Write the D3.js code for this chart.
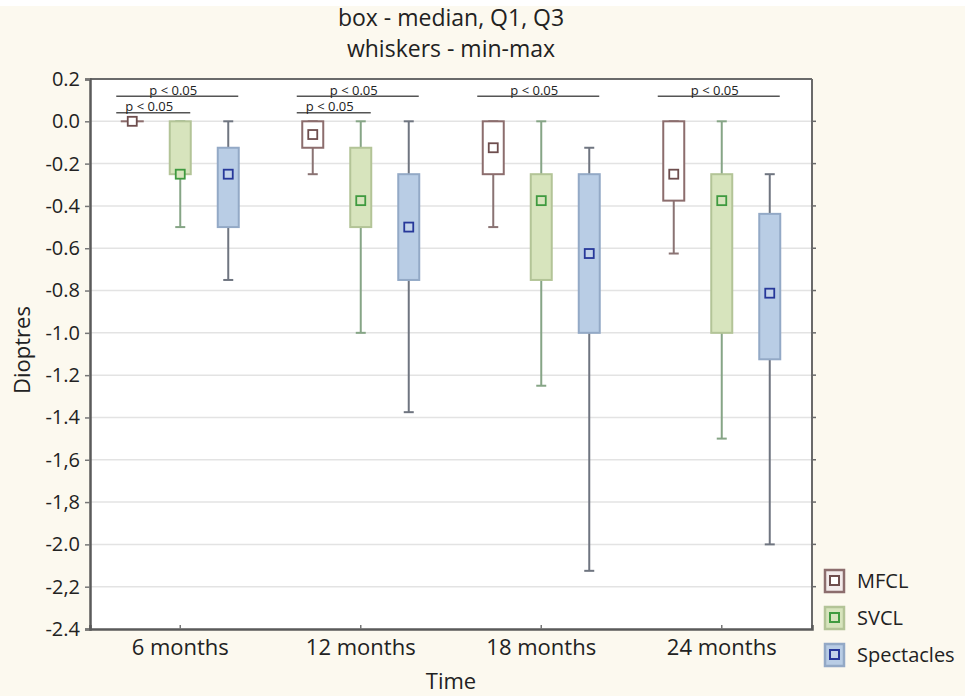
<!DOCTYPE html>
<html>
<head>
<meta charset="utf-8">
<script src="https://cdn.jsdelivr.net/npm/d3@7"></script>
<style>
  html, body { margin: 0; padding: 0; background: #ffffff; }
  svg { display: block; }
  text { font-family: "Open Sans", "DejaVu Sans", sans-serif; fill: #222; }
</style>
</head>
<body>
<svg id="chart" width="965" height="696"></svg>
<script>
// ---------- data ----------
const categories = ["6 months", "12 months", "18 months", "24 months"];
const series = ["MFCL", "SVCL", "Spectacles"];

const mfclMin    = [0, -0.25, -0.5, -0.625];
const mfclQ1     = [0, -0.125, -0.25, -0.375];
const mfclMedian = [0, -0.0625, -0.125, -0.25];
const mfclQ3     = [0, 0, 0, 0];
const mfclMax    = [0, 0, 0, 0];

const svclMin    = [-0.5, -1.0, -1.25, -1.5];
const svclQ1     = [-0.25, -0.5, -0.75, -1.0];
const svclMedian = [-0.25, -0.375, -0.375, -0.375];
const svclQ3     = [0, -0.125, -0.25, -0.25];
const svclMax    = [0, 0, 0, 0];

const specMin    = [-0.75, -1.375, -2.125, -2.0];
const specQ1     = [-0.5, -0.75, -1.0, -1.125];
const specMedian = [-0.25, -0.5, -0.625, -0.8125];
const specQ3     = [-0.125, -0.25, -0.25, -0.4375];
const specMax    = [0, 0, -0.125, -0.25];

const yTickValues = [0.2, 0, -0.2, -0.4, -0.6, -0.8, -1.0, -1.2, -1.4, -1.6, -1.8, -2.0, -2.2, -2.4];
const yTickLabels = ["0.2", "0.0", "-0.2", "-0.4", "-0.6", "-0.8", "-1.0", "-1.2", "-1.4", "-1,6", "-1,8", "-2.0", "-2,2", "-2.4"];

// significance brackets
const sigCategory = ["6 months", "6 months", "12 months", "12 months", "18 months", "24 months"];
const sigFrom     = ["MFCL", "MFCL", "MFCL", "MFCL", "MFCL", "MFCL"];
const sigTo       = ["Spectacles", "SVCL", "Spectacles", "SVCL", "Spectacles", "Spectacles"];
const sigLevel    = [0.118, 0.04, 0.118, 0.04, 0.118, 0.118];
const sigLabel    = ["p < 0.05", "p < 0.05", "p < 0.05", "p < 0.05", "p < 0.05", "p < 0.05"];

const titleLines = ["box - median, Q1, Q3", "whiskers - min-max"];

// ---------- build table ----------
const stats = {
  "MFCL": [mfclMin, mfclQ1, mfclMedian, mfclQ3, mfclMax],
  "SVCL": [svclMin, svclQ1, svclMedian, svclQ3, svclMax],
  "Spectacles": [specMin, specQ1, specMedian, specQ3, specMax]
};
const rows = [];
series.forEach(s => {
  categories.forEach((c, i) => {
    const a = stats[s];
    rows.push({ series: s, cat: c, min: a[0][i], q1: a[1][i], med: a[2][i], q3: a[3][i], max: a[4][i] });
  });
});

const style = {
  "MFCL":       { fill: "#ffffff", stroke: "#8c6d6d", whisker: "#8a7373", mStroke: "#6e4e4e", mFill: "#ffffff" },
  "SVCL":       { fill: "#d7e4bd", stroke: "#b3c497", whisker: "#86a586", mStroke: "#3f9a3f", mFill: "#d7e4bd" },
  "Spectacles": { fill: "#b9cde5", stroke: "#93a9c6", whisker: "#6f7580", mStroke: "#27389a", mFill: "#c3d3ea" }
};

// ---------- layout ----------
const W = 965, H = 696;
const plot = { left: 90, right: 812, top: 79, bottom: 629 };

const svg = d3.select("#chart");
svg.append("rect").attr("x", 0).attr("y", 0).attr("width", W).attr("height", H).attr("fill", "#fcf9ef");
svg.append("rect").attr("x", 0).attr("y", 0).attr("width", W).attr("height", 6).attr("fill", "#ffffff");
svg.append("rect").attr("x", plot.left).attr("y", plot.top)
  .attr("width", plot.right - plot.left).attr("height", plot.bottom - plot.top).attr("fill", "#ffffff");

const x = d3.scaleBand().domain(categories).range([plot.left, plot.right]).padding(0);
const xSub = d3.scaleBand().domain(series).range([-72, 72]);
const y = d3.scaleLinear().domain([-2.4, 0.2]).range([plot.bottom, plot.top]);

const cx = d => x(d.cat) + x.bandwidth() / 2 + xSub(d.series) + xSub.bandwidth() / 2;
const boxW = 21, capW = 10, mSize = 9;

// gridlines
svg.append("g").selectAll("line").data(yTickValues.slice(1, -1)).join("line")
  .attr("x1", plot.left).attr("x2", plot.right)
  .attr("y1", d => y(d)).attr("y2", d => y(d))
  .attr("stroke", "#e3e3e3").attr("stroke-width", 1.5);

// title
svg.append("g").selectAll("text").data(titleLines).join("text")
  .attr("x", (plot.left + plot.right) / 2)
  .attr("y", (d, i) => 26 + i * 31)
  .attr("text-anchor", "middle")
  .attr("font-size", 23)
  .text(d => d);

// significance brackets
const sig = sigCategory.map((c, i) => ({ cat: c, from: sigFrom[i], to: sigTo[i], level: sigLevel[i], label: sigLabel[i] }));
const sigG = svg.append("g");
sig.forEach(s => {
  const base = x(s.cat) + x.bandwidth() / 2;
  const x1 = base + xSub(s.from) + xSub.bandwidth() / 2 - 16;
  const x2 = base + xSub(s.to) + xSub.bandwidth() / 2 + 10;
  sigG.append("line").attr("x1", x1).attr("x2", x2)
    .attr("y1", y(s.level)).attr("y2", y(s.level))
    .attr("stroke", "#555").attr("stroke-width", 1.5);
  sigG.append("text").attr("x", (x1 + x2) / 2 - 4).attr("y", y(s.level) - 1.5)
    .attr("text-anchor", "middle").attr("font-size", 13).attr("fill", "#444")
    .text(s.label);
});

// whiskers
const boxes = svg.append("g");
boxes.selectAll("line.whisk").data(rows).join("line").attr("class", "whisk")
  .attr("x1", cx).attr("x2", cx)
  .attr("y1", d => y(d.max)).attr("y2", d => y(d.min))
  .attr("stroke", d => style[d.series].whisker).attr("stroke-width", 2);
boxes.selectAll("line.capHi").data(rows).join("line").attr("class", "capHi")
  .attr("x1", d => cx(d) - capW / 2).attr("x2", d => cx(d) + capW / 2)
  .attr("y1", d => y(d.max)).attr("y2", d => y(d.max))
  .attr("stroke", d => style[d.series].whisker).attr("stroke-width", 2);
boxes.selectAll("line.capLo").data(rows).join("line").attr("class", "capLo")
  .attr("x1", d => cx(d) - capW / 2).attr("x2", d => cx(d) + capW / 2)
  .attr("y1", d => y(d.min)).attr("y2", d => y(d.min))
  .attr("stroke", d => style[d.series].whisker).attr("stroke-width", 2);

// boxes
boxes.selectAll("rect.box").data(rows).join("rect").attr("class", "box")
  .attr("x", d => cx(d) - boxW / 2).attr("width", boxW)
  .attr("y", d => y(d.q3)).attr("height", d => Math.max(0.01, y(d.q1) - y(d.q3)))
  .attr("fill", d => style[d.series].fill)
  .attr("stroke", d => style[d.series].stroke).attr("stroke-width", 2);

// median markers
boxes.selectAll("rect.med").data(rows).join("rect").attr("class", "med")
  .attr("x", d => cx(d) - mSize / 2).attr("y", d => y(d.med) - mSize / 2)
  .attr("width", mSize).attr("height", mSize)
  .attr("fill", d => style[d.series].mFill)
  .attr("stroke", d => style[d.series].mStroke).attr("stroke-width", 1.8);

// axes frame
const frame = svg.append("g");
frame.append("line").attr("x1", plot.left).attr("x2", plot.right).attr("y1", plot.top).attr("y2", plot.top)
  .attr("stroke", "#6a6a6a").attr("stroke-width", 2);
frame.append("line").attr("x1", plot.right).attr("x2", plot.right).attr("y1", plot.top).attr("y2", plot.bottom)
  .attr("stroke", "#6a6a6a").attr("stroke-width", 2);

// right ticks
frame.selectAll("line.rt").data(yTickValues.slice(1, -1)).join("line").attr("class", "rt")
  .attr("x1", plot.right).attr("x2", plot.right + 4)
  .attr("y1", d => y(d)).attr("y2", d => y(d))
  .attr("stroke", "#6a6a6a").attr("stroke-width", 1.5);

// y axis
const yAxis = d3.axisLeft(y).tickValues(yTickValues)
  .tickFormat((d, i) => yTickLabels[i]).tickSize(5).tickPadding(5);
const yG = svg.append("g").attr("transform", `translate(${plot.left},0)`).call(yAxis);
yG.select(".domain").attr("stroke", "#5a5a5a").attr("stroke-width", 2.5);
yG.selectAll(".tick line").attr("stroke", "#777").attr("stroke-width", 1.5);
yG.selectAll(".tick text").attr("font-size", 20).attr("fill", "#333")
  .attr("font-family", "'Open Sans', sans-serif");

// x axis
const xAxis = d3.axisBottom(x).tickSize(-4).tickPadding(10);
const xG = svg.append("g").attr("transform", `translate(0,${plot.bottom})`).call(xAxis);
xG.select(".domain").attr("stroke", "#5a5a5a").attr("stroke-width", 2.5);
xG.selectAll(".tick line").attr("stroke", "#777").attr("stroke-width", 1.5);
xG.selectAll(".tick text").attr("font-size", 22).attr("fill", "#222")
  .attr("font-family", "'Open Sans', sans-serif");

// axis titles
svg.append("text").attr("x", (plot.left + plot.right) / 2).attr("y", 689)
  .attr("text-anchor", "middle").attr("font-size", 22).text("Time");
svg.append("text").attr("transform", `translate(30,${(plot.top + plot.bottom) / 2 - 4}) rotate(-90)`)
  .attr("text-anchor", "middle").attr("font-size", 22).text("Dioptres");

// legend
const legY = d3.scalePoint().domain(series).range([581, 655]);
const leg = svg.append("g");
series.forEach(s => {
  const gy = legY(s);
  leg.append("rect").attr("x", 825).attr("y", gy - 11).attr("width", 19).attr("height", 22)
    .attr("fill", style[s].fill === "#ffffff" ? "#f3ecec" : style[s].fill)
    .attr("stroke", style[s].stroke).attr("stroke-width", 2.5);
  leg.append("rect").attr("x", 830).attr("y", gy - 5).attr("width", 9).attr("height", 9)
    .attr("fill", style[s].mFill).attr("stroke", style[s].mStroke).attr("stroke-width", 2);
  leg.append("text").attr("x", 857).attr("y", gy + 7).attr("font-size", 20).attr("fill", "#222").text(s);
});
</script>
</body>
</html>
